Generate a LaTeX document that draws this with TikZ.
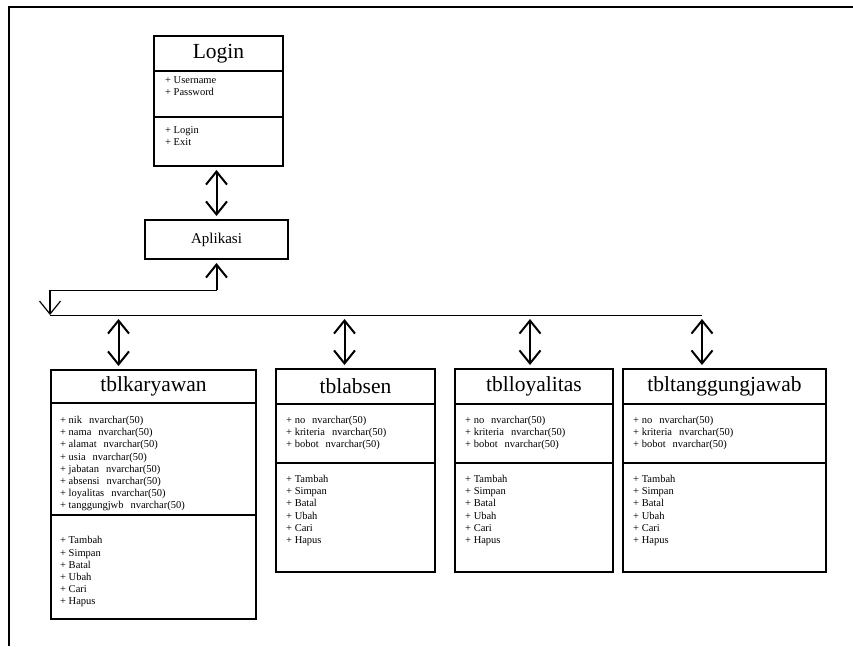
\documentclass[tikz,border=0pt]{standalone}
\usepackage{fontspec}
\setmainfont{Liberation Serif}
\usetikzlibrary{arrows.meta,positioning}
\newcommand{\gap}{\hspace{7pt}}

\begin{document}
\begin{tikzpicture}[x=1pt, y=-1pt, >={Straight Barb[length=13pt,width=21pt]},
  part/.style={draw, line width=1.8pt, inner sep=0pt, outer sep=0pt},
  ttl/.style={part, font=\fontsize{21.5}{24}\selectfont},
  lst/.style={anchor=north west, inner sep=0pt, align=left, font=\fontsize{10.5}{12.2}\selectfont},
  dbl/.style={<->, line width=2pt, shorten <=4pt, shorten >=4pt},
]
\useasboundingbox (0,0) rectangle (853,646);

% frame
\draw[line width=2pt] (9,646) -- (9,7) -- (853,7);

% login
\node[ttl, minimum width=129pt, minimum height=35pt] (loginT) at (218.5,53.5) {Login};
\node[part, minimum width=129pt, minimum height=46pt, below=0pt of loginT] (loginA) {};
\node[part, minimum width=129pt, minimum height=49pt, below=0pt of loginA] (loginM) {};
\node[lst] (loginAt) at ([shift={(11,5)}]loginA.north west) {+ Username\\+ Password};
\node[lst] (loginMt) at ([shift={(11,9)}]loginM.north west) {+ Login\\+ Exit};

% aplikasi
\node[part, minimum width=143pt, minimum height=39pt, font=\fontsize{15}{18}\selectfont] (apl) at (216.5,239.5) {Aplikasi};

% tables
\node[ttl, minimum width=205pt, minimum height=33pt] (karT) at (153.5,386.5) {tblkaryawan};
\node[part, minimum width=205pt, minimum height=112pt, below=0pt of karT] (karA) {};
\node[part, minimum width=205pt, minimum height=104pt, below=0pt of karA] (karM) {};
\node[lst] (karAt) at ([shift={(9,13)}]karA.north west) {+ nik\gap nvarchar(50)\\+ nama\gap nvarchar(50)\\+ alamat\gap nvarchar(50)\\+ usia\gap nvarchar(50)\\+ jabatan\gap nvarchar(50)\\+ absensi\gap nvarchar(50)\\+ loyalitas\gap nvarchar(50)\\+ tanggungjwb\gap nvarchar(50)};
\node[lst] (karMt) at ([shift={(9,21.5)}]karM.north west) {+ Tambah\\+ Simpan\\+ Batal\\+ Ubah\\+ Cari\\+ Hapus};

\node[ttl, minimum width=159pt, minimum height=35pt] (absT) at (355.5,386.5) {tblabsen};
\node[part, minimum width=159pt, minimum height=59pt, below=0pt of absT] (absA) {};
\node[part, minimum width=159pt, minimum height=109pt, below=0pt of absA] (absM) {};
\node[lst] (absAt) at ([shift={(10,12)}]absA.north west) {+ no\gap nvarchar(50)\\+ kriteria\gap nvarchar(50)\\+ bobot\gap nvarchar(50)};
\node[lst] (absMt) at ([shift={(10,12)}]absM.north west) {+ Tambah\\+ Simpan\\+ Batal\\+ Ubah\\+ Cari\\+ Hapus};

\node[ttl, minimum width=158pt, minimum height=35pt] (loyT) at (534,386.5) {tblloyalitas};
\node[part, minimum width=158pt, minimum height=59pt, below=0pt of loyT] (loyA) {};
\node[part, minimum width=158pt, minimum height=109pt, below=0pt of loyA] (loyM) {};
\node[lst] (loyAt) at ([shift={(10,12)}]loyA.north west) {+ no\gap nvarchar(50)\\+ kriteria\gap nvarchar(50)\\+ bobot\gap nvarchar(50)};
\node[lst] (loyMt) at ([shift={(10,12)}]loyM.north west) {+ Tambah\\+ Simpan\\+ Batal\\+ Ubah\\+ Cari\\+ Hapus};

\node[ttl, minimum width=203pt, minimum height=35pt] (tjT) at (724.5,386.5) {tbltanggungjawab};
\node[part, minimum width=203pt, minimum height=59pt, below=0pt of tjT] (tjA) {};
\node[part, minimum width=203pt, minimum height=109pt, below=0pt of tjA] (tjM) {};
\node[lst] (tjAt) at ([shift={(10,12)}]tjA.north west) {+ no\gap nvarchar(50)\\+ kriteria\gap nvarchar(50)\\+ bobot\gap nvarchar(50)};
\node[lst] (tjMt) at ([shift={(10,12)}]tjM.north west) {+ Tambah\\+ Simpan\\+ Batal\\+ Ubah\\+ Cari\\+ Hapus};

% connectors
\coordinate (jn) at (216.5,290);
\coordinate (turn) at (50,290);
\coordinate (busL) at (50,315);
\coordinate (busR) at (702,315);
\coordinate (b1) at (118.5,315);
\coordinate (b2) at (344.5,315);
\coordinate (b3) at (530,315);
\coordinate (b4) at (702,315);

\draw[dbl] (loginM.south -| apl.north) -- (apl.north);
\draw[line width=2pt, ->, shorten >=4pt] (jn) -- (apl.south);
\draw[line width=0.8pt] (jn) -- (turn);
\draw[line width=1.2pt, ->] (turn) -- (busL);
\draw[line width=0.8pt] (busL) -- (busR);
\draw[dbl] (b1) -- (b1 |- karT.north);
\draw[dbl] (b2) -- (b2 |- absT.north);
\draw[dbl] (b3) -- (b3 |- loyT.north);
\draw[dbl] (b4) -- (b4 |- tjT.north);

\end{tikzpicture}
\end{document}
